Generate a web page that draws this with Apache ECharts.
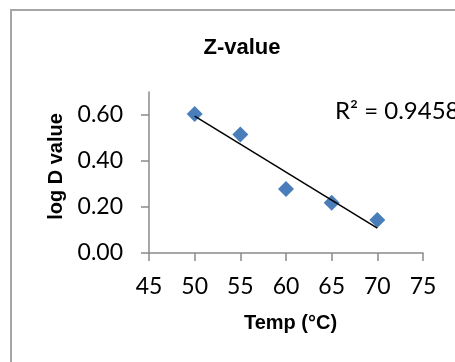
<!DOCTYPE html>
<html>
<head>
<meta charset="utf-8">
<script src="https://cdn.jsdelivr.net/npm/echarts@6/dist/echarts.min.js"></script>
<style>
  html, body { margin: 0; padding: 0; background: #fff; }
  #chart { width: 455px; height: 362px; }
</style>
</head>
<body>
<div id="chart"></div>
<script>
// Temperature (°C) and measured log D values
const temps = [50, 55, 60, 65, 70];
const logD = [0.604, 0.515, 0.278, 0.218, 0.143];
const yTicks = [0, 0.2, 0.4, 0.6];
const r2Text = 'R² = 0.9458';

// Least-squares linear trendline through the points
const n = temps.length;
const mx = temps.reduce((a, b) => a + b, 0) / n;
const my = logD.reduce((a, b) => a + b, 0) / n;
let sxy = 0, sxx = 0;
for (let i = 0; i < n; i++) {
  sxy += (temps[i] - mx) * (logD[i] - my);
  sxx += (temps[i] - mx) * (temps[i] - mx);
}
const slope = sxy / sxx;
const intercept = my - slope * mx;
const xFirst = Math.min(...temps), xLast = Math.max(...temps);
const trend = [[xFirst, intercept + slope * xFirst], [xLast, intercept + slope * xLast]];

const axisGray = '#8a8a8a';
const tickFont = 'Lato, "Open Sans", sans-serif';
const boldFont = '"Liberation Sans", Arial, sans-serif';

const chart = echarts.init(document.getElementById('chart'));
chart.setOption({
  backgroundColor: '#fff',
  animation: false,
  title: {
    text: 'Z-value',
    left: 237,
    top: 32,
    textAlign: 'center',
    textStyle: { fontFamily: boldFont, fontWeight: 'bold', fontSize: 22, color: '#000' }
  },
  grid: { left: 149, top: 92, right: 32, bottom: 109, containLabel: false },
  xAxis: {
    type: 'value',
    min: 45, max: 75, interval: 5,
    name: 'Temp (°C)',
    nameLocation: 'middle',
    nameGap: 60,
    nameTextStyle: { fontFamily: boldFont, fontWeight: 'bold', fontSize: 20, color: '#000', padding: [0, 0, 0, 9] },
    axisLine: { lineStyle: { color: axisGray, width: 1.5 } },
    axisTick: { show: true, inside: false, length: 8, lineStyle: { color: axisGray, width: 1.5 } },
    axisLabel: { margin: 22, fontFamily: tickFont, fontSize: 23, color: '#000' },
    splitLine: { show: false }
  },
  yAxis: {
    type: 'value',
    min: 0, max: 0.7,
    name: 'log D value',
    nameLocation: 'middle',
    nameGap: 82,
    nameRotate: 90,
    nameTextStyle: { fontFamily: boldFont, fontWeight: 'bold', fontSize: 20, color: '#000', padding: [0, 0, 0, 12] },
    axisLine: { show: true, lineStyle: { color: axisGray, width: 1.5 } },
    axisTick: { show: true, inside: false, length: 8, customValues: yTicks, lineStyle: { color: axisGray, width: 1.5 } },
    axisLabel: {
      margin: 26, fontFamily: tickFont, fontSize: 23, color: '#000',
      customValues: yTicks,
      formatter: v => v.toFixed(2)
    },
    splitLine: { show: false }
  },
  graphic: [
    {
      type: 'rect',
      shape: { x: 11, y: 10, width: 500, height: 400 },
      style: { fill: 'none', stroke: '#a6a6a6', lineWidth: 2 },
      z: -10
    },
    {
      type: 'text',
      left: 335,
      top: 99,
      style: { text: r2Text, font: '24px ' + tickFont, fill: '#000' }
    }
  ],
  series: [
    {
      type: 'scatter',
      data: temps.map((t, i) => [t, logD[i]]),
      symbol: 'diamond',
      symbolSize: [16, 16],
      itemStyle: { color: '#4a7ebb', opacity: 1 },
      z: 2
    },
    {
      type: 'line',
      data: trend,
      symbol: 'none',
      lineStyle: { color: '#000', width: 1.5 },
      z: 3
    }
  ]
});
</script>
</body>
</html>
